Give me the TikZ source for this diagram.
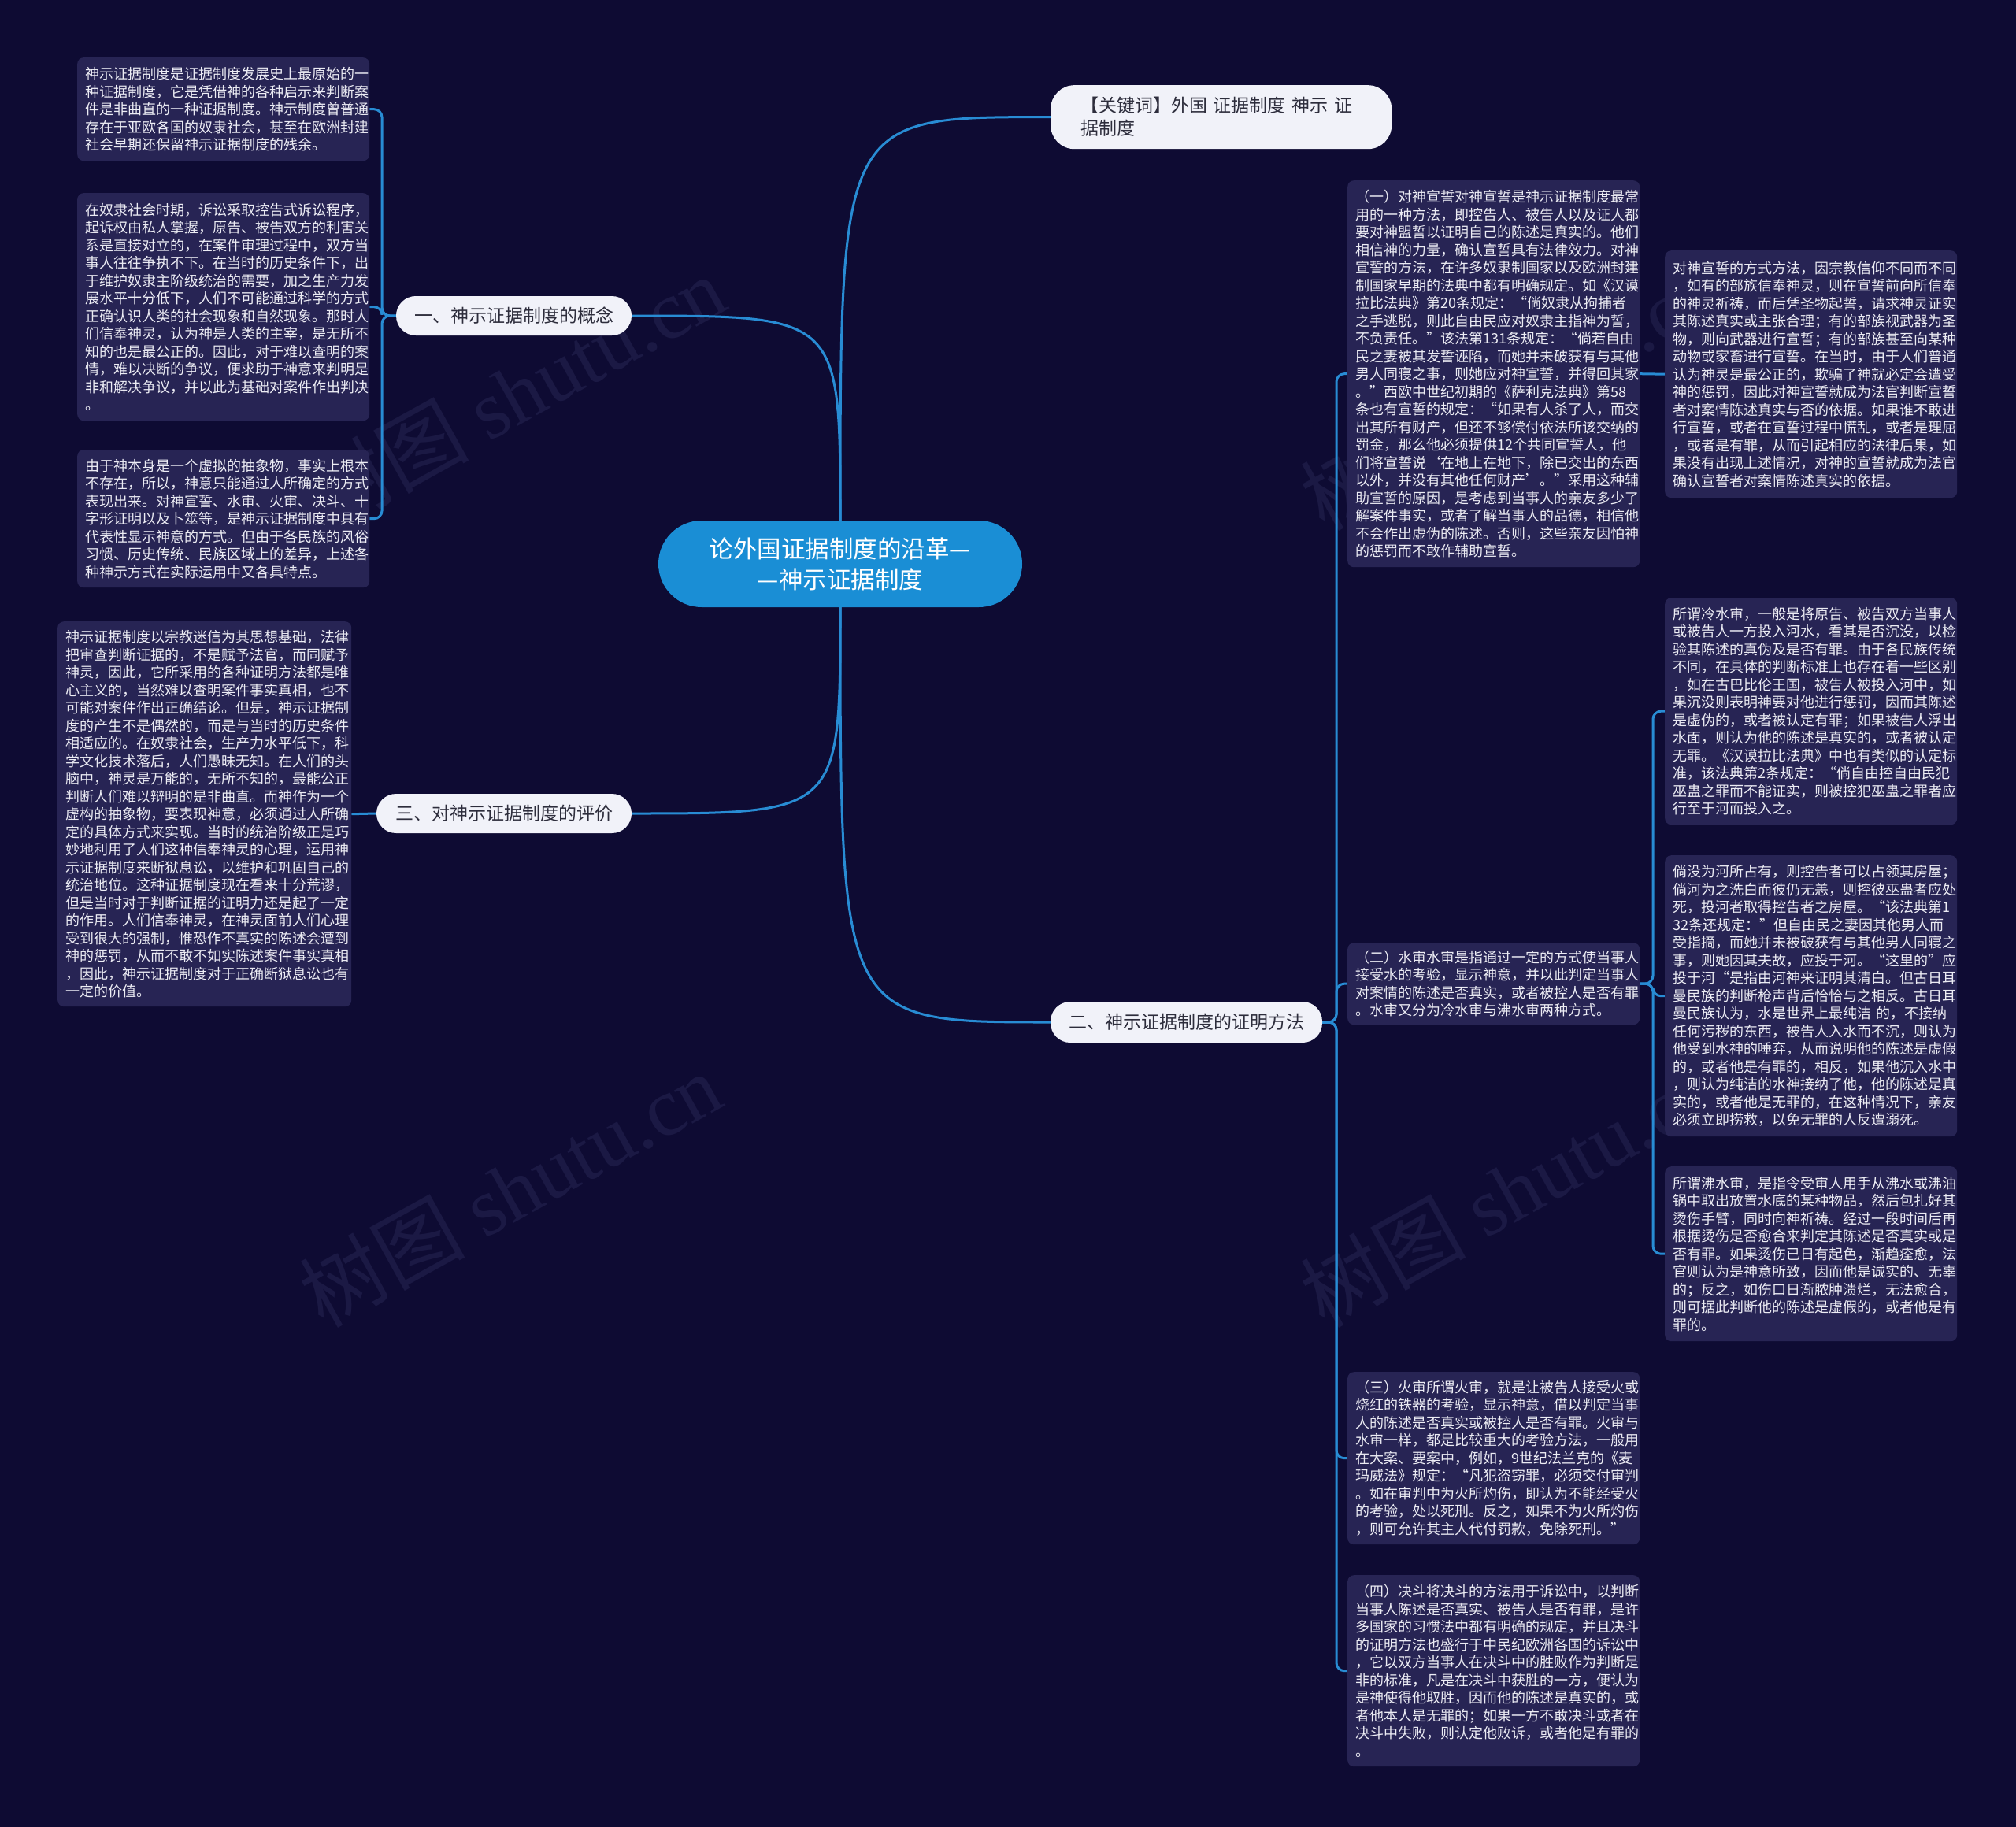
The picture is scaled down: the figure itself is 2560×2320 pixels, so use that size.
\documentclass[tikz,border=0pt]{standalone}
\usepackage{fontspec}
\setmainfont{Noto Sans CJK SC}
\newfontfamily\wmserif{Liberation Serif}
\definecolor{bgc}{RGB}{14,11,51}
\definecolor{boxc}{RGB}{39,36,84}
\definecolor{leaftext}{RGB}{236,236,244}
\definecolor{linec}{RGB}{40,140,212}
\definecolor{centerc}{RGB}{26,142,213}
\definecolor{branchc}{RGB}{241,242,249}
\definecolor{branchtext}{RGB}{45,45,60}
\definecolor{wmc}{RGB}{27,25,68}
\pgfdeclarelayer{back}
\pgfdeclarelayer{mid}
\pgfsetlayers{back,mid,main}
\begin{document}
\begin{tikzpicture}[x=1pt,y=-1pt,
  conn/.style={draw=linec, line width=3pt},
  leaf/.style={fill=boxc, rounded corners=8pt, text=leaftext,
    font=\fontsize{18pt}{22.5pt}\selectfont, align=left,
    inner xsep=10pt, inner ysep=0pt, anchor=north west, text width=351pt},
  branch/.style={fill=branchc, rounded corners=25pt, text=branchtext,
    font=\fontsize{23pt}{29pt}\selectfont, inner sep=0pt, minimum height=50pt},
  wm/.style={text=wmc, font=\fontsize{105pt}{110pt}\selectfont, rotate=29, inner sep=0pt}
]
\useasboundingbox (0,0) rectangle (2560,2320);
\begin{pgfonlayer}{back}
\fill[bgc] (0,0) rectangle (2560,2320);
\node[wm] (wm1) at (653,498) {树图 {\wmserif shutu.cn}};
\node[wm] (wm2) at (648,1510) {树图 {\wmserif shutu.cn}};
\node[wm] (wm3) at (1919,498) {树图 {\wmserif shutu.cn}};
\node[wm] (wm4) at (1919,1510) {树图 {\wmserif shutu.cn}};
\end{pgfonlayer}

% center
\node[fill=centerc, rounded corners=55pt, text=white, minimum width=462pt, minimum height=110pt,
  inner sep=0pt, align=center, font=\fontsize{30.5pt}{39pt}\selectfont] (c) at (1067,716)
  {论外国证据制度的沿革—\\—神示证据制度};

% branches
\node[branch, minimum width=299pt] (b1) at (652.5,401) {一、神示证据制度的概念};
\node[branch, minimum width=324pt] (b3) at (640,1033) {三、对神示证据制度的评价};
\node[branch, minimum width=345pt, minimum height=52pt] (b2) at (1506.5,1298) {二、神示证据制度的证明方法};
\node[fill=branchc, rounded corners=30pt, text=branchtext, font=\fontsize{23pt}{29pt}\selectfont,
  anchor=north west, minimum width=433pt, minimum height=81pt, text width=357pt,
  inner xsep=38pt, inner ysep=0pt, align=left] (kw) at (1334,108)
  {【关键词】外国 证据制度 神示 证\\据制度};

% left leaves
\node[leaf, minimum height=131pt] (l1) at (98,73) {神示证据制度是证据制度发展史上最原始的一\\种证据制度，它是凭借神的各种启示来判断案\\件是非曲直的一种证据制度。神示制度曾普通\\存在于亚欧各国的奴隶社会，甚至在欧洲封建\\社会早期还保留神示证据制度的残余。};

\node[leaf, minimum height=289pt] (l2) at (98,245) {在奴隶社会时期，诉讼采取控告式诉讼程序，\\起诉权由私人掌握，原告、被告双方的利害关\\系是直接对立的，在案件审理过程中，双方当\\事人往往争执不下。在当时的历史条件下，出\\于维护奴隶主阶级统治的需要，加之生产力发\\展水平十分低下，人们不可能通过科学的方式\\正确认识人类的社会现象和自然现象。那时人\\们信奉神灵，认为神是人类的主宰，是无所不\\知的也是最公正的。因此，对于难以查明的案\\情，难以决断的争议，便求助于神意来判明是\\非和解决争议，并以此为基础对案件作出判决\\。};

\node[leaf, minimum height=175pt] (l3) at (98,571) {由于神本身是一个虚拟的抽象物，事实上根本\\不存在，所以，神意只能通过人所确定的方式\\表现出来。对神宣誓、水审、火审、决斗、十\\字形证明以及卜筮等，是神示证据制度中具有\\代表性显示神意的方式。但由于各民族的风俗\\习惯、历史传统、民族区域上的差异，上述各\\种神示方式在实际运用中又各具特点。};

\node[leaf, minimum height=489pt, text width=353pt] (ev) at (73,789) {神示证据制度以宗教迷信为其思想基础，法律\\把审查判断证据的，不是赋予法官，而同赋予\\神灵，因此，它所采用的各种证明方法都是唯\\心主义的，当然难以查明案件事实真相，也不\\可能对案件作出正确结论。但是，神示证据制\\度的产生不是偶然的，而是与当时的历史条件\\相适应的。在奴隶社会，生产力水平低下，科\\学文化技术落后，人们愚昧无知。在人们的头\\脑中，神灵是万能的，无所不知的，最能公正\\判断人们难以辩明的是非曲直。而神作为一个\\虚构的抽象物，要表现神意，必须通过人所确\\定的具体方式来实现。当时的统治阶级正是巧\\妙地利用了人们这种信奉神灵的心理，运用神\\示证据制度来断狱息讼，以维护和巩固自己的\\统治地位。这种证据制度现在看来十分荒谬，\\但是当时对于判断证据的证明力还是起了一定\\的作用。人们信奉神灵，在神灵面前人们心理\\受到很大的强制，惟恐作不真实的陈述会遭到\\神的惩罚，从而不敢不如实陈述案件事实真相\\，因此，神示证据制度对于正确断狱息讼也有\\一定的价值。};

% right column
\node[leaf, minimum height=491pt] (r1) at (1711,229) {（一）对神宣誓对神宣誓是神示证据制度最常\\用的一种方法，即控告人、被告人以及证人都\\要对神盟誓以证明自己的陈述是真实的。他们\\相信神的力量，确认宣誓具有法律效力。对神\\宣誓的方法，在许多奴隶制国家以及欧洲封建\\制国家早期的法典中都有明确规定。如《汉谟\\拉比法典》第20条规定：“倘奴隶从拘捕者\\之手逃脱，则此自由民应对奴隶主指神为誓，\\不负责任。”该法第131条规定：“倘若自由\\民之妻被其发誓诬陷，而她并未破获有与其他\\男人同寝之事，则她应对神宣誓，并得回其家\\。”西欧中世纪初期的《萨利克法典》第58\\条也有宣誓的规定：“如果有人杀了人，而交\\出其所有财产，但还不够偿付依法所该交纳的\\罚金，那么他必须提供12个共同宣誓人，他\\们将宣誓说‘在地上在地下，除已交出的东西\\以外，并没有其他任何财产’。”采用这种辅\\助宣誓的原因，是考虑到当事人的亲友多少了\\解案件事实，或者了解当事人的品德，相信他\\不会作出虚伪的陈述。否则，这些亲友因怕神\\的惩罚而不敢作辅助宣誓。};

\node[leaf, minimum height=314pt] (rr1) at (2114,318) {对神宣誓的方式方法，因宗教信仰不同而不同\\，如有的部族信奉神灵，则在宣誓前向所信奉\\的神灵祈祷，而后凭圣物起誓，请求神灵证实\\其陈述真实或主张合理；有的部族视武器为圣\\物，则向武器进行宣誓；有的部族甚至向某种\\动物或家畜进行宣誓。在当时，由于人们普通\\认为神灵是最公正的，欺骗了神就必定会遭受\\神的惩罚，因此对神宣誓就成为法官判断宣誓\\者对案情陈述真实与否的依据。如果谁不敢进\\行宣誓，或者在宣誓过程中慌乱，或者是理屈\\，或者是有罪，从而引起相应的法律后果，如\\果没有出现上述情况，对神的宣誓就成为法官\\确认宣誓者对案情陈述真实的依据。};

\node[leaf, minimum height=104pt] (r2) at (1711,1197) {（二）水审水审是指通过一定的方式使当事人\\接受水的考验，显示神意，并以此判定当事人\\对案情的陈述是否真实，或者被控人是否有罪\\。水审又分为冷水审与沸水审两种方式。};

\node[leaf, minimum height=288pt] (c1) at (2114,759) {所谓冷水审，一般是将原告、被告双方当事人\\或被告人一方投入河水，看其是否沉没，以检\\验其陈述的真伪及是否有罪。由于各民族传统\\不同，在具体的判断标准上也存在着一些区别\\，如在古巴比伦王国，被告人被投入河中，如\\果沉没则表明神要对他进行惩罚，因而其陈述\\是虚伪的，或者被认定有罪；如果被告人浮出\\水面，则认为他的陈述是真实的，或者被认定\\无罪。《汉谟拉比法典》中也有类似的认定标\\准，该法典第2条规定：“倘自由控自由民犯\\巫蛊之罪而不能证实，则被控犯巫蛊之罪者应\\行至于河而投入之。};

\node[leaf, minimum height=357pt] (c2) at (2114,1086) {倘没为河所占有，则控告者可以占领其房屋；\\倘河为之洗白而彼仍无恙，则控彼巫蛊者应处\\死，投河者取得控告者之房屋。“该法典第1\\32条还规定：”但自由民之妻因其他男人而\\受指摘，而她并未被破获有与其他男人同寝之\\事，则她因其夫故，应投于河。“这里的”应\\投于河“是指由河神来证明其清白。但古日耳\\曼民族的判断枪声背后恰恰与之相反。古日耳\\曼民族认为，水是世界上最纯洁~的，不接纳\\任何污秽的东西，被告人入水而不沉，则认为\\他受到水神的唾弃，从而说明他的陈述是虚假\\的，或者他是有罪的，相反，如果他沉入水中\\，则认为纯洁的水神接纳了他，他的陈述是真\\实的，或者他是无罪的，在这种情况下，亲友\\必须立即捞救，以免无罪的人反遭溺死。};

\node[leaf, minimum height=222pt] (c3) at (2114,1481) {所谓沸水审，是指令受审人用手从沸水或沸油\\锅中取出放置水底的某种物品，然后包扎好其\\烫伤手臂，同时向神祈祷。经过一段时间后再\\根据烫伤是否愈合来判定其陈述是否真实或是\\否有罪。如果烫伤已日有起色，渐趋痊愈，法\\官则认为是神意所致，因而他是诚实的、无辜\\的；反之，如伤口日渐脓肿溃烂，无法愈合，\\则可据此判断他的陈述是虚假的，或者他是有\\罪的。};

\node[leaf, minimum height=219pt] (r3) at (1711,1742) {（三）火审所谓火审，就是让被告人接受火或\\烧红的铁器的考验，显示神意，借以判定当事\\人的陈述是否真实或被控人是否有罪。火审与\\水审一样，都是比较重大的考验方法，一般用\\在大案、要案中，例如，9世纪法兰克的《麦\\玛威法》规定：“凡犯盗窃罪，必须交付审判\\。如在审判中为火所灼伤，即认为不能经受火\\的考验，处以死刑。反之，如果不为火所灼伤\\，则可允许其主人代付罚款，免除死刑。”};

\node[leaf, minimum height=243pt] (r4) at (1711,2000) {（四）决斗将决斗的方法用于诉讼中，以判断\\当事人陈述是否真实、被告人是否有罪，是许\\多国家的习惯法中都有明确的规定，并且决斗\\的证明方法也盛行于中民纪欧洲各国的诉讼中\\，它以双方当事人在决斗中的胜败作为判断是\\非的标准，凡是在决斗中获胜的一方，便认为\\是神使得他取胜，因而他的陈述是真实的，或\\者他本人是无罪的；如果一方不敢决斗或者在\\决斗中失败，则认定他败诉，或者他是有罪的\\。};

\begin{pgfonlayer}{mid}
% center to branches
\draw[conn] (c.north) .. controls (1067,148) .. (kw.west);
\draw[conn] (c.north) .. controls (1067,401) .. (b1.east);
\draw[conn] (c.south) .. controls (1067,1298) .. (b2.west);
\draw[conn] (c.south) .. controls (1067,1033) .. (b3.east);
% branch 1 to leaves
\draw[conn, rounded corners=10pt] (b1.west) -- (485,401) |- (l1.east);
\draw[conn, rounded corners=10pt] (b1.west) -- (485,401) |- (l2.east);
\draw[conn, rounded corners=10pt] (b1.west) -- (485,401) |- (l3.east);
% branch 3
\draw[conn] (b3.west) -- (ev.east);
% branch 2
\draw[conn, rounded corners=10pt] (b2.east) -- (1697,1298) |- (r1.west);
\draw[conn, rounded corners=10pt] (b2.east) -- (1697,1298) |- (r2.west);
\draw[conn, rounded corners=10pt] (b2.east) -- (1697,1298) |- (r3.west);
\draw[conn, rounded corners=10pt] (b2.east) -- (1697,1298) |- (r4.west);
% r1 to rr1
\draw[conn] (r1.east) -- (rr1.west);
% r2 to c1..c3
\draw[conn, rounded corners=10pt] (r2.east) -- (2099,1249) |- (c1.west);
\draw[conn, rounded corners=10pt] (r2.east) -- (2099,1249) |- (c2.west);
\draw[conn, rounded corners=10pt] (r2.east) -- (2099,1249) |- (c3.west);
\end{pgfonlayer}
\end{tikzpicture}
\end{document}
